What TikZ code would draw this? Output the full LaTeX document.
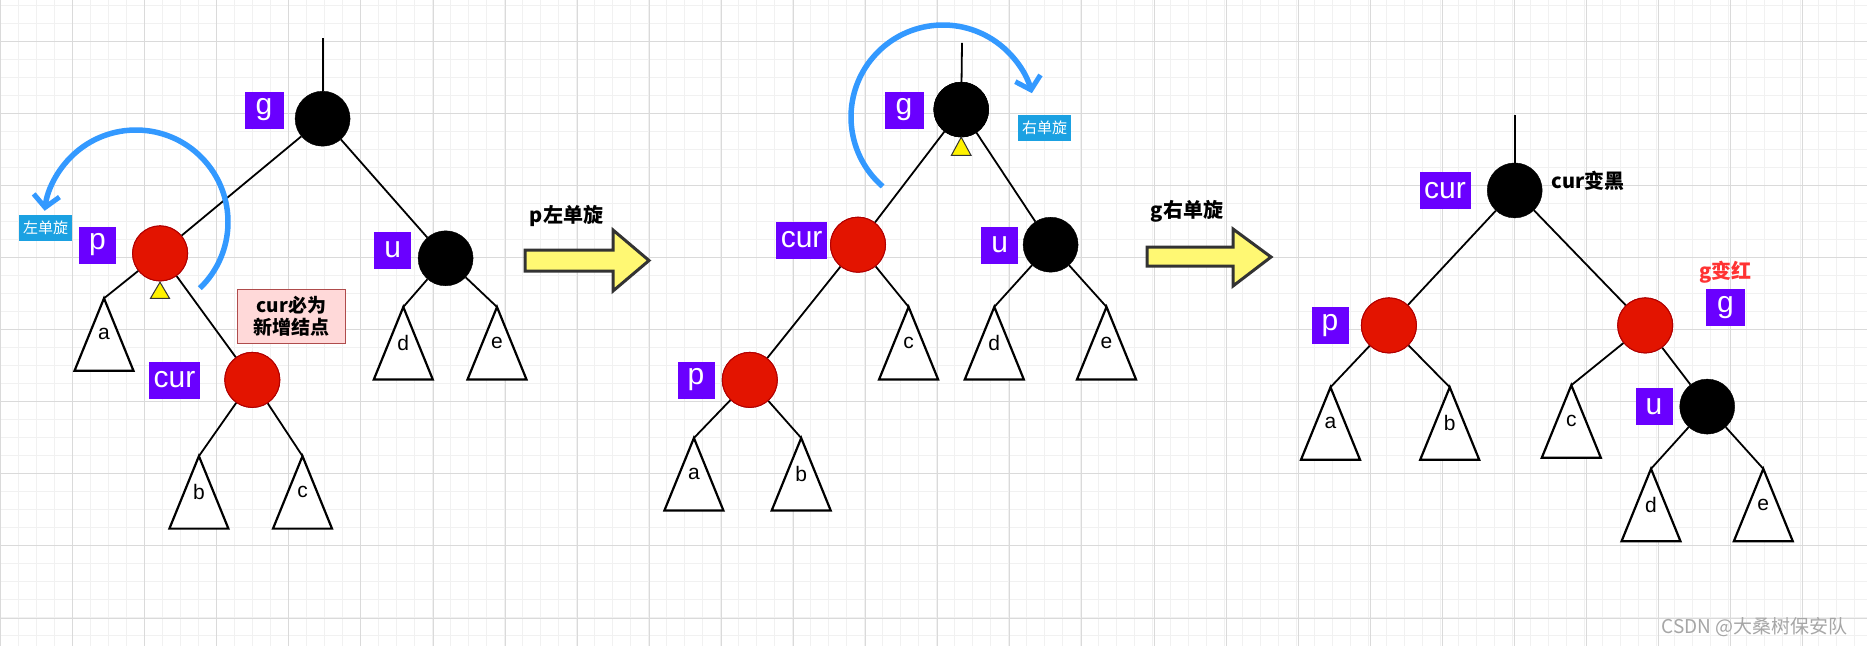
\documentclass[tikz,border=0pt]{standalone}
\usepackage{fontspec}
\setmainfont{Liberation Sans}
\newfontfamily\cjk{Noto Sans CJK SC}
\usetikzlibrary{arrows.meta}
\definecolor{lbl}{HTML}{6A00FF}
\definecolor{rd}{HTML}{E31400}
\definecolor{rdb}{HTML}{B20000}
\definecolor{arcb}{HTML}{3399FF}
\definecolor{tagb}{HTML}{1BA1E2}
\definecolor{gmaj}{HTML}{DADADA}
\definecolor{gmin}{HTML}{F1F1F1}
\tikzset{
 rn/.style={circle,fill=rd,draw=rdb,line width=1pt,minimum size=55pt,inner sep=0pt},
 bn/.style={circle,fill=black,draw=black,minimum size=55pt,inner sep=0pt},
 lb/.style={fill=lbl,text=white,inner sep=0pt,minimum height=37pt,font=\fontsize{30}{30}\selectfont},
 tag/.style={fill=tagb,text=white,inner sep=0pt,minimum width=53pt,minimum height=26pt,font=\cjk\fontsize{15}{15}\selectfont},
 edge/.style={line width=1.8pt},
 tri/.style={line width=2.2pt,fill=white},
 rot/.style={arcb,line width=5.5pt,-{Straight Barb[length=12pt,width=26pt,line width=5pt]}},
 btxt/.style={font=\cjk\bfseries\fontsize{20}{22}\selectfont},
 blockarrow/.style={fill=yellow!55,draw=black!80,line width=3pt,line join=miter},
 ytri/.style={fill=yellow,draw=black!80,line width=1pt},
}
\newcommand\subtree[4]{%
 \coordinate (#1) at (#2,#3);
 \draw[tri] (#1) -- ++(-29.5,72.5) -- ++(59,0) -- cycle;
 \node[font=\fontsize{21}{21}\selectfont] (#1t) at (#2,#3+36) {#4};}
\begin{document}
\begin{tikzpicture}[x=1pt,y=-1pt]
\useasboundingbox (0,0) rectangle (1867,646);
\fill[white] (0,0) rectangle (1867,646);
% grid
\foreach \i in {0,...,103} {\draw[gmin,line width=0.8pt] (0.4+18*\i,0) -- (0.4+18*\i,646);}
\foreach \j in {0,...,36} {\draw[gmin,line width=0.8pt] (0,5.2+18*\j) -- (1867,5.2+18*\j);}
\foreach \i in {0,...,25} {\draw[gmaj,line width=1pt] (0.4+72.1*\i,0) -- (0.4+72.1*\i,646);}
\foreach \j in {0,...,8} {\draw[gmaj,line width=1pt] (0,41.2+72.1*\j) -- (1867,41.2+72.1*\j);}

%%%%% Panel 1
\node[bn] (g1) at (322.6,118.7) {};
\node[rn] (p1) at (160.1,253.4) {};
\node[rn] (c1) at (252.3,379.9) {};
\node[bn] (u1) at (445.6,258.3) {};
\coordinate (r1) at (322.6,37.9);
\subtree{a1}{104}{298.3}{a}
\subtree{b1}{198.9}{456.1}{b}
\subtree{cc1}{302.5}{456.1}{c}
\subtree{d1}{403.3}{307}{d}
\subtree{e1}{497}{307}{e}
\draw[edge] (g1) -- (r1);
\draw[edge] (g1) -- (p1);
\draw[edge] (g1) -- (u1);
\draw[edge] (p1) -- (a1);
\draw[edge] (p1) -- (c1);
\draw[edge] (c1) -- (b1);
\draw[edge] (c1) -- (cc1);
\draw[edge] (u1) -- (d1);
\draw[edge] (u1) -- (e1);
\node[rn] at (p1) {};
\node[rn] at (c1) {};
\draw[ytri] (160,282.2) -- (169.5,298.3) -- (150.5,298.3) -- cycle;
\node[lb,minimum width=39pt] (lg1) at (264,110) {g};
\node[lb,minimum width=37pt] (lp1) at (97.5,245) {p};
\node[lb,minimum width=51pt] (lc1) at (174.5,380) {cur};
\node[lb,minimum width=37pt] (lu1) at (392.6,250) {u};
\node[fill=red!15!white,draw=red!55!black!70,line width=1.2pt,minimum width=108pt,minimum height=54pt,align=center,inner sep=0pt,btxt,font=\cjk\bfseries\fontsize{19}{22}\selectfont] (box1) at (291.4,316.7) {cur必为\\新增结点};
\coordinate (k1) at (136,222);
\draw[rot] (k1) ++(46:92) arc(46:-173:92);
\node[tag] (t1) at (45.7,228) {左单旋};
\node[btxt] (s1) at (566.5,216) {p左单旋};
\draw[blockarrow] (525,250) -- (613,250) -- (613,230) -- (649,260.5) -- (613,291) -- (613,271) -- (525,271) -- cycle;

%%%%% Panel 2
\coordinate (k2) at (943,117);
\draw[rot] (k2) ++(131:92) arc(131:345:92);
\node[bn] (g2) at (961.2,109.6) {};
\node[rn] (c2) at (858,244.7) {};
\node[bn] (u2) at (1050.6,244.7) {};
\node[rn] (p2) at (749.8,379.9) {};
\coordinate (r2) at (962,42.8);
\subtree{a2}{693.9}{438}{a}
\subtree{b2}{801.2}{438}{b}
\subtree{cc2}{908.6}{306.9}{c}
\subtree{d2}{994.3}{306.9}{d}
\subtree{e2}{1106.5}{306.9}{e}
\draw[edge] (g2) -- (r2);
\draw[edge] (g2) -- (c2);
\draw[edge] (g2) -- (u2);
\draw[edge] (c2) -- (p2);
\draw[edge] (c2) -- (cc2);
\draw[edge] (u2) -- (d2);
\draw[edge] (u2) -- (e2);
\draw[edge] (p2) -- (a2);
\draw[edge] (p2) -- (b2);
\node[rn] at (c2) {};
\node[rn] at (p2) {};
\node[bn] at (g2) {};
\draw[ytri] (961.2,137.2) -- (971,155.3) -- (951.4,155.3) -- cycle;
\node[lb,minimum width=39pt] (lg2) at (904,110) {g};
\node[tag] (t2) at (1044.5,128) {右单旋};
\node[lb,minimum width=51pt] (lc2) at (801.6,240) {cur};
\node[lb,minimum width=37pt] (lu2) at (999.6,245) {u};
\node[lb,minimum width=37pt] (lp2) at (696,380) {p};
\node[btxt] (s2) at (1187,211) {g右单旋};
\draw[blockarrow] (1147,247) -- (1233,247) -- (1233,229) -- (1271,257) -- (1233,286) -- (1233,266) -- (1147,266) -- cycle;

%%%%% Panel 3
\node[bn] (c3) at (1514.7,190.4) {};
\node[rn] (p3) at (1388.9,325.4) {};
\node[rn] (g3) at (1645.2,325.4) {};
\node[bn] (u3) at (1707.2,406.6) {};
\coordinate (r3) at (1514.7,115.4);
\subtree{a3}{1330.5}{387.2}{a}
\subtree{b3}{1449.7}{387.2}{b}
\subtree{cc3}{1571.3}{385.2}{c}
\subtree{d3}{1651}{468.8}{d}
\subtree{e3}{1763.3}{468.8}{e}
\draw[edge] (c3) -- (r3);
\draw[edge] (c3) -- (p3);
\draw[edge] (c3) -- (g3);
\draw[edge] (p3) -- (a3);
\draw[edge] (p3) -- (b3);
\draw[edge] (g3) -- (cc3);
\draw[edge] (g3) -- (u3);
\draw[edge] (u3) -- (d3);
\draw[edge] (u3) -- (e3);
\node[rn] at (p3) {};
\node[rn] at (g3) {};
\node[lb,minimum width=51pt] (lc3) at (1445,190.7) {cur};
\node[lb,minimum width=37pt] (lp3) at (1330,325.4) {p};
\node[lb,minimum width=39pt] (lg3) at (1725.4,307.7) {g};
\node[lb,minimum width=37pt] (lu3) at (1654,406.5) {u};
\node[btxt,anchor=west] (s3) at (1548,181) {cur变黑};
\node[btxt,text={rgb,255:red,255;green,51;blue,51}] (s4) at (1725.5,272) {g变红};
\node[text=black!35,font=\cjk\fontsize{19}{19}\selectfont,anchor=east] (wm) at (1851,627) {CSDN @大桑树保安队};
\end{tikzpicture}
\end{document}
